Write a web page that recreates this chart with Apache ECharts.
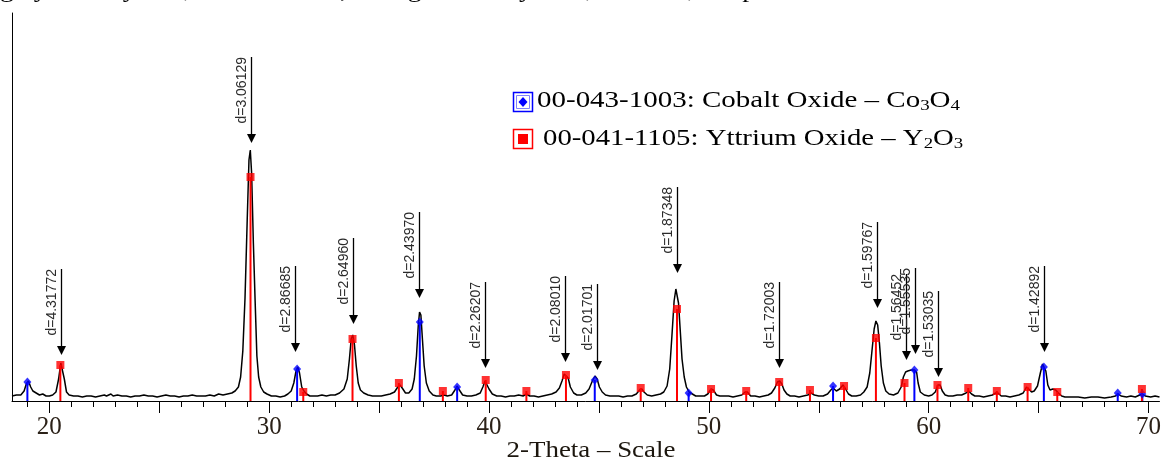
<!DOCTYPE html>
<html>
<head>
<meta charset="utf-8">
<script src="https://cdn.jsdelivr.net/npm/echarts@6/dist/echarts.min.js"></script>
<style>
  html, body { margin: 0; padding: 0; background: #fff; }
  #xrd { width: 1164px; height: 464px; }
</style>
</head>
<body>
<div id="xrd"></div>
<script>
// measured pattern (2-theta, counts above axis)
var patternTheta = [
  18.3, 18.5, 18.7, 18.85, 18.95, 19.05, 19.15, 19.25, 19.4, 19.55, 19.7, 19.85,
  20.0, 20.15, 20.3, 20.42, 20.52, 20.58, 20.68, 20.78, 20.9, 21.1, 21.3, 21.5,
  21.7, 21.9, 22.1, 22.3, 22.5, 22.6, 22.8, 22.9, 23.1, 23.3, 23.5, 23.7, 23.9,
  24.1, 24.3, 24.5, 24.7, 24.9, 25.1, 25.3, 25.5, 25.7, 25.9, 26.1, 26.3, 26.5,
  26.7, 26.9, 27.1, 27.3, 27.5, 27.7, 27.9, 28.1, 28.3, 28.45, 28.6, 28.7, 28.8,
  28.9, 29.0, 29.08, 29.14, 29.2, 29.28, 29.36, 29.44, 29.52, 29.62, 29.75, 29.9,
  30.1, 30.3, 30.5, 30.7, 30.85, 31.0, 31.12, 31.22, 31.3, 31.38, 31.48, 31.58,
  31.7, 31.85, 32.0, 32.2, 32.4, 32.6, 32.8, 33.0, 33.2, 33.4, 33.55, 33.65,
  33.73, 33.8, 33.88, 33.96, 34.05, 34.15, 34.3, 34.5, 34.7, 34.9, 35.1, 35.3,
  35.5, 35.7, 35.85, 35.95, 36.05, 36.2, 36.35, 36.5, 36.6, 36.7, 36.78, 36.84,
  36.9, 36.97, 37.05, 37.15, 37.28, 37.45, 37.6, 37.8, 37.95, 38.1, 38.3, 38.45,
  38.55, 38.65, 38.8, 39.0, 39.2, 39.4, 39.6, 39.72, 39.82, 39.9, 40.0, 40.15,
  40.35, 40.55, 40.75, 40.95, 41.15, 41.35, 41.55, 41.7, 41.85, 42.05, 42.25,
  42.45, 42.65, 42.85, 43.05, 43.2, 43.32, 43.42, 43.5, 43.6, 43.7, 43.85, 44.0,
  44.2, 44.4, 44.55, 44.7, 44.82, 44.92, 45.02, 45.15, 45.3, 45.5, 45.7, 45.9,
  46.1, 46.3, 46.5, 46.7, 46.85, 46.95, 47.05, 47.2, 47.4, 47.6, 47.8, 47.95,
  48.1, 48.22, 48.32, 48.42, 48.5, 48.55, 48.62, 48.7, 48.78, 48.88, 48.98, 49.1,
  49.25, 49.4, 49.6, 49.8, 49.95, 50.1, 50.2, 50.35, 50.5, 50.7, 50.9, 51.1,
  51.3, 51.5, 51.65, 51.75, 51.9, 52.1, 52.3, 52.5, 52.7, 52.85, 53.0, 53.12,
  53.22, 53.32, 53.42, 53.55, 53.7, 53.9, 54.1, 54.3, 54.5, 54.65, 54.8, 55.0,
  55.2, 55.4, 55.55, 55.65, 55.8, 55.95, 56.1, 56.22, 56.35, 56.5, 56.7, 56.9,
  57.05, 57.2, 57.32, 57.42, 57.52, 57.6, 57.68, 57.76, 57.84, 57.94, 58.05,
  58.2, 58.4, 58.6, 58.75, 58.85, 58.95, 59.05, 59.2, 59.35, 59.45, 59.52, 59.62,
  59.8, 60.0, 60.15, 60.3, 60.42, 60.52, 60.62, 60.75, 60.9, 61.1, 61.3, 61.5,
  61.7, 61.82, 61.95, 62.1, 62.3, 62.5, 62.7, 62.9, 63.05, 63.15, 63.3, 63.5,
  63.7, 63.9, 64.1, 64.3, 64.45, 64.55, 64.68, 64.8, 64.95, 65.08, 65.18, 65.25,
  65.33, 65.42, 65.52, 65.65, 65.78, 65.9, 66.05, 66.2, 66.5, 66.8, 67.1, 67.4,
  67.7, 68.0, 68.3, 68.5, 68.62, 68.75, 69.0, 69.2, 69.4, 69.6, 69.72, 69.85,
  70.1, 70.3, 70.5
];
var patternCounts = [
  5, 6, 6, 10, 17, 20, 14, 10, 8, 6, 7, 5,
  5, 6, 9, 22, 38, 39, 22, 9, 6, 5, 5, 4,
  5, 5, 4, 5, 6, 5, 7, 5, 6, 5, 5, 4, 5,
  5, 6, 5, 5, 4, 5, 6, 5, 5, 4, 5, 5, 6,
  5, 5, 5, 6, 5, 7, 6, 7, 8, 10, 14, 24, 50,
  103, 181, 241, 251, 228, 158, 100, 45, 24, 14, 9, 7,
  5, 5, 4, 5, 7, 10, 18, 30, 34, 28, 14, 10,
  7, 5, 5, 5, 6, 5, 6, 6, 8, 12, 22, 42,
  62, 66, 56, 35, 18, 11, 8, 6, 5, 5, 5, 6,
  7, 9, 14, 16, 13, 8, 8, 12, 22, 45, 75, 89,
  86, 62, 35, 18, 10, 6, 5, 5, 6, 5, 6, 11,
  15, 11, 6, 5, 5, 6, 8, 14, 20, 19, 12, 7,
  5, 5, 4, 5, 5, 6, 5, 7, 5, 5, 4,
  5, 6, 7, 9, 13, 20, 27, 28, 23, 14, 8, 6,
  6, 8, 12, 20, 25, 22, 14, 9, 6, 5, 5, 5,
  4, 5, 5, 7, 11, 12, 9, 6, 5, 6, 7, 9,
  15, 32, 65, 100, 112, 114, 98, 70, 42, 24, 14, 9,
  7, 5, 5, 5, 7, 12, 11, 6, 5, 5, 5, 4,
  5, 6, 9, 9, 5, 5, 4, 5, 6, 8, 13, 19,
  20, 17, 11, 7, 5, 5, 4, 5, 6, 8, 6, 5,
  5, 7, 11, 13, 10, 12, 16, 12, 7, 5, 5, 6,
  9, 14, 28, 50, 72, 80, 76, 58, 35, 18, 10,
  7, 6, 8, 14, 24, 29, 30, 31, 31, 29, 18, 9,
  6, 5, 6, 9, 16, 16, 10, 6, 5, 5, 6, 6,
  8, 10, 7, 5, 5, 4, 5, 6, 8, 8, 5, 5,
  4, 5, 6, 8, 14, 12, 9, 10, 15, 28, 37, 38,
  30, 16, 11, 12, 11, 8, 5, 4, 4, 4, 3, 4,
  4, 3, 4, 5, 7, 5, 4, 5, 4, 6, 7, 5,
  4, 5, 4
];

// reference cards
var co3o4Theta  = [19.0, 31.27, 36.85, 38.55, 44.81, 49.08, 55.65, 59.35, 65.24, 68.6, 69.72];
var co3o4Height = [19, 32, 79, 14, 21, 8, 15, 31, 34, 8, 7];
var y2o3Theta  = [20.5, 29.15, 31.55, 33.79, 35.9, 37.9, 39.85, 41.7, 43.5, 46.9, 48.55, 50.1,
                  51.7, 53.2, 54.6, 56.15, 57.6, 58.9, 60.4, 61.8, 63.1, 64.5, 65.85, 69.7];
var y2o3Height = [36, 224, 9, 62, 18, 10, 21, 10, 26, 13, 92, 12,
                  10, 19, 11, 15, 63, 18, 16, 13, 10, 14, 9, 12];

// d-spacing flags
var peakTheta  = [20.55, 29.15, 31.17, 33.8, 36.81, 39.82, 43.47, 44.9, 48.55, 53.21, 57.65, 58.98, 59.37, 60.44, 65.24];
var peakLabels = ['d=4.31772', 'd=3.06129', 'd=2.86685', 'd=2.64960', 'd=2.43970', 'd=2.26207', 'd=2.08010',
                  'd=2.01701', 'd=1.87348', 'd=1.72003', 'd=1.59767', 'd=1.56452', 'd=1.55535', 'd=1.53035', 'd=1.42892'];
var arrowTip   = [46, 258, 49, 77, 103, 33, 39, 31, 128, 33, 93, 41, 47, 24, 49];

var labelValues = [20, 30, 40, 50, 60, 70];
var majorTicks  = [20, 25, 30, 35, 40, 45, 50, 55, 60, 65, 70];
var minorTicks  = [19, 20, 21, 22, 23, 24, 25, 26, 27, 28, 29, 30, 31, 32, 33, 34, 35, 36, 37, 38, 39, 40, 41, 42, 43, 44,
                   45, 46, 47, 48, 49, 50, 51, 52, 53, 54, 55, 56, 57, 58, 59, 60, 61, 62, 63, 64, 65, 66, 67, 68, 69, 70];

function pairs(xs, ys) {
  return xs.map(function (x, i) { return [x, ys[i]]; });
}

function stickRenderer(color) {
  return function (params, api) {
    var top = api.coord([api.value(0), api.value(1)]);
    var base = api.coord([api.value(0), 0]);
    return {
      type: 'line',
      shape: { x1: top[0], y1: top[1], x2: base[0], y2: base[1] },
      style: { stroke: color, lineWidth: 2 }
    };
  };
}

var serif = '"Liberation Serif", "Times New Roman", serif';
var inkColor = '#1c160e';

var chart = echarts.init(document.getElementById('xrd'));
chart.setOption({
  animation: false,
  backgroundColor: '#fff',
  grid: { left: 12, right: 2, top: 13, bottom: 63, containLabel: false },
  xAxis: [
    {
      type: 'value', min: 18.3, max: 70.5,
      axisLine: { lineStyle: { color: '#000', width: 1 } },
      axisTick: { customValues: majorTicks, length: 12, lineStyle: { color: '#000', width: 1 } },
      axisLabel: { customValues: labelValues, margin: 14, fontFamily: serif, fontSize: 25, color: '#2b2118' },
      splitLine: { show: false }
    },
    {
      type: 'value', min: 18.3, max: 70.5, position: 'bottom',
      axisLine: { show: false },
      axisTick: { customValues: minorTicks, length: 6, lineStyle: { color: '#000', width: 1 } },
      axisLabel: { show: false },
      splitLine: { show: false }
    }
  ],
  yAxis: {
    type: 'value', min: 0, max: 388,
    axisLine: { show: true, lineStyle: { color: '#000', width: 1 } },
    axisTick: { show: false },
    axisLabel: { show: false },
    splitLine: { show: false }
  },
  series: [
    {
      type: 'line', data: pairs(patternTheta, patternCounts), showSymbol: false,
      lineStyle: { color: '#000', width: 1.5 }, z: 2
    },
    {
      type: 'custom', data: pairs(co3o4Theta, co3o4Height), renderItem: stickRenderer('#0000ff'),
      encode: { x: 0, y: 1 }, z: 3
    },
    {
      type: 'custom', data: pairs(y2o3Theta, y2o3Height), renderItem: stickRenderer('#ff0000'),
      encode: { x: 0, y: 1 }, z: 3
    },
    {
      type: 'scatter', data: pairs(co3o4Theta, co3o4Height), symbol: 'diamond', symbolSize: [8, 9],
      itemStyle: { color: '#0000ff' }, z: 4
    },
    {
      type: 'scatter', data: pairs(y2o3Theta, y2o3Height), symbol: 'rect', symbolSize: 8,
      itemStyle: { color: '#ff0000' }, z: 4
    },
    {
      type: 'custom', data: pairs(peakTheta, arrowTip), encode: { x: 0, y: 1 }, z: 5,
      renderItem: function (params, api) {
        var tip = api.coord([api.value(0), api.value(1)]);
        var x = Math.round(tip[0]) + 0.5;
        var y = tip[1];
        return {
          type: 'group',
          children: [
            { type: 'line', shape: { x1: x, y1: y - 86, x2: x, y2: y - 6 }, style: { stroke: '#000', lineWidth: 1.3 } },
            { type: 'polygon', shape: { points: [[x - 4.5, y - 9], [x + 4.5, y - 9], [x, y]] }, style: { fill: '#000' } },
            {
              type: 'text', x: x - 2, y: y - 86, rotation: Math.PI / 2,
              style: {
                text: peakLabels[params.dataIndex], align: 'right', verticalAlign: 'bottom',
                font: '14px "Liberation Sans", Arial, sans-serif', fill: '#2a2a2a'
              }
            }
          ]
        };
      }
    }
  ],
  graphic: [
    // cut-off line of the page text above the figure
    {
      type: 'text', x: 0, y: 2, scaleX: 1.2, silent: true,
      style: {
        text: 'giấy nên tùy thuộc vào mẫu đo, chúng ta sẽ thấy rõ sự khác biệt về pha',
        font: '23px ' + serif, fill: '#000', align: 'left', verticalAlign: 'bottom'
      }
    },
    // legend
    { type: 'rect', shape: { x: 513.5, y: 92.5, width: 19, height: 19 }, style: { fill: '#fff', stroke: '#0000ff', lineWidth: 1.5 } },
    { type: 'rect', shape: { x: 516.5, y: 95.5, width: 13, height: 13 }, style: { fill: 'none', stroke: '#8080ff', lineWidth: 1 } },
    { type: 'polygon', shape: { points: [[523, 97], [527.5, 102], [523, 107], [518.5, 102]] }, style: { fill: '#0000ff' } },
    {
      type: 'text', x: 537, y: 101, scaleX: 1.26,
      style: {
        text: '{a|00-043-1003: Cobalt Oxide – Co}{s|3}{a|O}{s|4}',
        align: 'left', verticalAlign: 'middle',
        rich: {
          a: { fontFamily: serif, fontSize: 23, lineHeight: 26, color: inkColor },
          s: { fontFamily: serif, fontSize: 15, lineHeight: 20, verticalAlign: 'bottom', color: inkColor }
        }
      }
    },
    { type: 'rect', shape: { x: 513.5, y: 129.5, width: 19, height: 19 }, style: { fill: '#fff', stroke: '#ff0000', lineWidth: 1.5 } },
    { type: 'rect', shape: { x: 518, y: 134, width: 10, height: 10 }, style: { fill: '#ff0000' } },
    {
      type: 'text', x: 543, y: 139, scaleX: 1.25,
      style: {
        text: '{a|00-041-1105: Yttrium Oxide – Y}{s|2}{a|O}{s|3}',
        align: 'left', verticalAlign: 'middle',
        rich: {
          a: { fontFamily: serif, fontSize: 23, lineHeight: 26, color: inkColor },
          s: { fontFamily: serif, fontSize: 15, lineHeight: 20, verticalAlign: 'bottom', color: inkColor }
        }
      }
    },
    // axis title
    {
      type: 'text', x: 591, y: 451, scaleX: 1.17,
      style: { text: '2-Theta – Scale', font: '23px ' + serif, fill: inkColor, align: 'center', verticalAlign: 'middle' }
    }
  ]
});
</script>
</body>
</html>
